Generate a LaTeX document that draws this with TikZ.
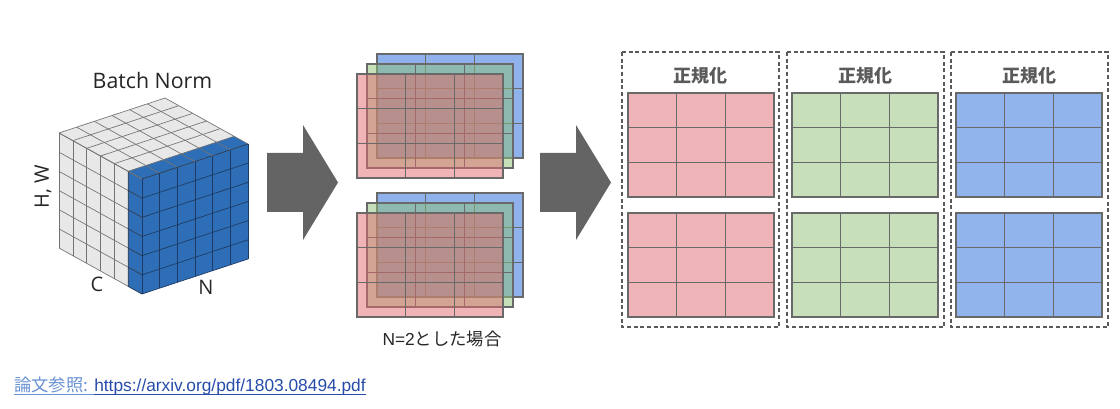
\documentclass[tikz,border=0pt]{standalone}
\usepackage{fontspec}
\setmainfont{Open Sans}
\newfontfamily\jpfont{Noto Sans CJK JP}
\newfontfamily\linkfont{Liberation Sans}
\usepackage{tikz}
\usetikzlibrary{calc}

\definecolor{cubegray}{RGB}{232,232,232}
\definecolor{cubeblue}{RGB}{46,110,182}
\definecolor{cubeedge}{RGB}{115,115,115}
\definecolor{cubeedgeblue}{RGB}{28,58,100}
\definecolor{arrowgray}{RGB}{100,100,100}
\definecolor{layerred}{RGB}{225,105,109}
\definecolor{layergreen}{RGB}{141,193,115}
\definecolor{layerblue}{RGB}{31,102,220}
\definecolor{gridred}{RGB}{239,180,183}
\definecolor{gridgreen}{RGB}{199,223,186}
\definecolor{gridblue}{RGB}{145,180,236}
\definecolor{gridline}{RGB}{105,105,105}
\definecolor{headgray}{RGB}{90,90,90}
\definecolor{refjpblue}{RGB}{104,144,210}
\definecolor{refurlblue}{RGB}{38,76,170}

\begin{document}
\begin{tikzpicture}[x=0.75pt,y=0.75pt,yscale=-1,xscale=1,
  cubeline/.style={draw=cubeedge, line width=0.5pt},
  cubelineblue/.style={draw=cubeedgeblue, line width=0.5pt},
  bigarrow/.style={fill=arrowgray},
  layer/.style={draw=gridline, line width=1pt, fill opacity=0.5},
  cellgrid/.style={draw=gridline, line width=1pt},
  normbox/.style={draw=headgray, line width=0.8pt, dash pattern=on 3pt off 2pt},
  lbl/.style={inner sep=0pt, text=black!85, font=\fontsize{15}{18}\selectfont},
  normtitle/.style={inner sep=0pt, text=headgray, font=\jpfont\bfseries\fontsize{13.5}{16}\selectfont}]
\path[use as bounding box] (0,0) rectangle (1120,409);

%Shape: Cube faces
\fill[cubegray] (142,179) -- ++(-83,-46) -- ++(106,-35) -- ++(83,46) -- cycle;
\fill[cubegray] (142,179) -- ++(-83,-46) -- ++(0,115) -- ++(83,46) -- cycle;
\fill[cubeblue] (142,179) -- ++(-13.833,-7.667) -- ++(106,-35) -- ++(13.833,7.667) -- cycle;
\fill[cubeblue] (142,179) -- ++(-13.833,-7.667) -- ++(0,115) -- ++(13.833,7.667) -- cycle;
\fill[cubeblue] (142,179) -- ++(106,-35) -- ++(0,115) -- ++(-106,35) -- cycle;
%Shape: Cube cells
\foreach \k in {0,...,6} {
  \draw[cubeline] ({142-13.833*\k},{179-7.667*\k}) -- ++(106,-35);
  \draw[cubeline] ({142+17.667*\k},{179-5.833*\k}) -- ++(-83,-46);
  \draw[cubeline] ({142-13.833*\k},{179-7.667*\k}) -- ++(0,115);
  \draw[cubeline] (142,{179+19.167*\k}) -- ++(-83,-46);
  \draw[cubelineblue] ({142+17.667*\k},{179-5.833*\k}) -- ++(0,115);
  \draw[cubelineblue] (142,{179+19.167*\k}) -- ++(106,-35);
}
\draw[cubelineblue] (128.167,171.333) -- ++(0,115) -- ++(13.833,7.667);
\foreach \k in {1,...,5}
  \draw[cubelineblue] (128.167,{171.333+19.167*\k}) -- ++(13.833,7.667);

%Shape: Block arrows
\fill[bigarrow] (267,153) -- (303,153) -- (303,125) -- (338,182.5) -- (303,240) -- (303,212) -- (267,212) -- cycle;
\fill[bigarrow] (540,153) -- (576,153) -- (576,125) -- (611,182.5) -- (576,240) -- (576,212) -- (540,212) -- cycle;

%Shape: Stacked layers (N=2)
\foreach \gy in {0,139} {
  \foreach \dx/\lc in {20/layerblue,10/layergreen,0/layerred} {
    \draw[layer, fill=\lc] ({357+\dx},{74-\dx+\gy}) rectangle ++(146,104);
    \draw[cellgrid] ({357+\dx+48.67},{74-\dx+\gy}) -- ++(0,104);
    \draw[cellgrid] ({357+\dx+97.33},{74-\dx+\gy}) -- ++(0,104);
    \draw[cellgrid] ({357+\dx},{74-\dx+\gy+34.67}) -- ++(146,0);
    \draw[cellgrid] ({357+\dx},{74-\dx+\gy+69.33}) -- ++(146,0);
  }
}

%Shape: Normalised groups
\draw[normbox] (622,52) rectangle (779,327);
\draw[normbox] (787,52) rectangle (944,327);
\draw[normbox] (951,52) rectangle (1108,327);
\foreach \gx/\gc in {628/gridred,792/gridgreen,956/gridblue} {
  \foreach \gy in {93,213} {
    \draw[cellgrid, fill=\gc] (\gx,\gy) rectangle ++(146,104);
    \draw[cellgrid] ({\gx+48.67},\gy) -- ++(0,104);
    \draw[cellgrid] ({\gx+97.33},\gy) -- ++(0,104);
    \draw[cellgrid] (\gx,{\gy+34.67}) -- ++(146,0);
    \draw[cellgrid] (\gx,{\gy+69.33}) -- ++(146,0);
  }
}

% Text Node
\node[lbl, anchor=base, font=\fontsize{16}{19}\selectfont] (title) at (152.5,89) {Batch Norm};
% Text Node
\node[lbl, anchor=base] (labelC) at (97,292) {C};
% Text Node
\node[lbl, anchor=base] (labelN) at (206,295) {N};
% Text Node
\node[lbl, rotate=90] (labelHW) at (43,187) {H, W};
% Text Node
\node[inner sep=0pt, text=black!85, font=\fontsize{13}{16}\selectfont] (caseN) at (442,339) {\linkfont N=2\jpfont とした場合};
% Text Node
\node[normtitle] (normA) at (700.5,76) {正規化};
\node[normtitle] (normB) at (865.5,76) {正規化};
\node[normtitle] (normC) at (1029.5,76) {正規化};
% Text Node
\node[inner sep=0pt, anchor=base west, text=refjpblue, font=\jpfont\fontsize{13}{16}\selectfont] (refjp) at (14,391) {論文参照:\kern4pt};
\node[inner sep=0pt, anchor=base west, text=refurlblue, font=\linkfont\fontsize{13}{16}\selectfont] (refurl) at (refjp.base east) {https://arxiv.org/pdf/1803.08494.pdf};
\draw[refjpblue, line width=0.7pt] ($(refjp.base west)+(0,3)$) -- ($(refjp.base east)+(0,3)$);
\draw[refurlblue, line width=0.7pt] ($(refurl.base west)+(0,3)$) -- ($(refurl.base east)+(0,3)$);

\end{tikzpicture}
\end{document}
